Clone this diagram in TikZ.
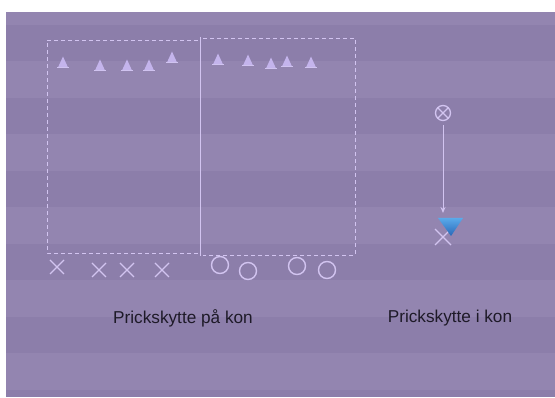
\documentclass[tikz,border=0pt]{standalone}
\usepackage{fontspec}
\setmainfont{Liberation Sans}
\usetikzlibrary{arrows.meta}
\definecolor{bglight}{HTML}{9385B0}
\definecolor{bgdark}{HTML}{8C7EAA}
\definecolor{lav}{HTML}{D2C4F0}
\definecolor{conecol}{HTML}{C4B4EC}
\definecolor{txt}{HTML}{1E1A28}
\definecolor{bluetop}{HTML}{5AAAEA}
\definecolor{bluebot}{HTML}{2A68B8}
\begin{document}
\begin{tikzpicture}[x=1pt,y=-1pt,
  field/.style={draw=lav, line width=0.9pt, dash pattern=on 4pt off 3pt},
  mark x/.style={draw=lav, line width=1.4pt},
  ring/.style={draw=lav, line width=1.4pt},
  label/.style={font=\fontsize{17.2}{19}\selectfont, text=txt, inner sep=0pt}]
\useasboundingbox (0,0) rectangle (555,398);
\fill[white] (0,0) rectangle (555,398);
% background stripes
\fill[bglight] (6,12) rectangle (555,397);
\foreach \y in {25,98,171,244,317,390}{
  \fill[bgdark] (6,\y) rectangle (555,{min(\y+36.5,397)});
}
% fields
\draw[field] (198,40) -- (47,40) -- (47,253) -- (198,253);
\draw[field] (203,38) -- (355,38) -- (355,255) -- (203,255);
\draw[lav, line width=1pt] (200.5,37) -- (200.5,256);
% cones
\foreach \x/\y in {63/63,100/66,127/66,149/66,172/58,218/60,248/61,271/64,287/62,311/63}{
  \fill[conecol] (\x-5,\y+4.5) -- (\x,\y-6.5) -- (\x+5,\y+4.5) -- cycle;
  \fill[conecol!80!white] (\x-6,\y+4) rectangle (\x+6,\y+5.5);
}
% crosses
\foreach \x/\y in {57/267,99/270,127/270,162/270}{
  \draw[mark x] (\x-7,\y-7) -- (\x+7,\y+7) (\x-7,\y+7) -- (\x+7,\y-7);
}
% circles
\foreach \x/\y in {220/265,248/271,297/266,327/270}{
  \draw[ring] (\x,\y) circle (8.5);
}
% right drill
\node[circle, draw=lav, line width=1.3pt, minimum size=15pt, inner sep=0pt,
  path picture={\draw[lav, line width=1.2pt]
    (path picture bounding box.south west) -- (path picture bounding box.north east)
    (path picture bounding box.north west) -- (path picture bounding box.south east);}]
  (ox) at (443,113) {};
\coordinate (xm) at (443,237);
\draw[mark x] (435,229) -- (451,245) (435,245) -- (451,229);
\coordinate (arrowend) at (443,213);
\draw[lav, line width=1pt, -{Stealth[length=6pt,width=5pt]}] (ox.south) ++(0,4) -- (arrowend);
\shade[top color=bluetop, bottom color=bluebot] (438,218) -- (463,218) -- (451,236) -- cycle;
\node[label] (t1) at (183,318.5) {Prickskytte på kon};
\node[label] (t2) at (450,318.5) {Prickskytte i kon};
\end{tikzpicture}
\end{document}
